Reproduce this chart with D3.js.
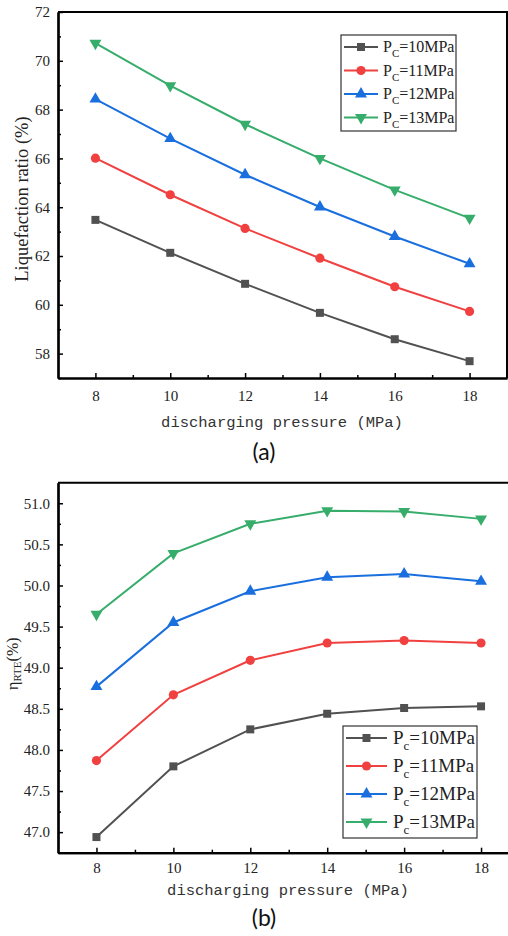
<!DOCTYPE html>
<html>
<head>
<meta charset="utf-8">
<script src="https://cdn.jsdelivr.net/npm/d3@7"></script>
<style>
  body { margin: 0; background: #fff; }
  svg { display: block; }
</style>
</head>
<body>
<svg id="chart" width="508" height="936"></svg>
<script>
// discharging pressure (MPa)
const pressures = [8, 10, 12, 14, 16, 18];
const chargePressures = ["10", "11", "12", "13"];

// (a) liquefaction ratio (%)
const liquefaction10 = [63.48, 62.13, 60.86, 59.67, 58.59, 57.69];
const liquefaction11 = [66.01, 64.51, 63.13, 61.91, 60.74, 59.73];
const liquefaction12 = [68.43, 66.81, 65.33, 64.01, 62.80, 61.68];
const liquefaction13 = [70.72, 68.98, 67.40, 66.00, 64.71, 63.55];

// (b) round trip efficiency (%)
const rte10 = [46.94, 47.80, 48.25, 48.44, 48.51, 48.53];
const rte11 = [47.87, 48.67, 49.09, 49.30, 49.33, 49.30];
const rte12 = [48.77, 49.55, 49.93, 50.10, 50.14, 50.05];
const rte13 = [49.65, 50.39, 50.75, 50.91, 50.90, 50.81];

const xTicks = [8, 10, 12, 14, 16, 18];
const yTicksA = [58, 60, 62, 64, 66, 68, 70, 72];
const yTicksB = [47.0, 47.5, 48.0, 48.5, 49.0, 49.5, 50.0, 50.5, 51.0];

const colors = ["#515151", "#F14040", "#1A6FDF", "#37AD6B"];
const symbols = [
  {type: d3.symbolSquare, size: 64, rotate: 0},
  {type: d3.symbolCircle, size: 66, rotate: 0},
  {type: d3.symbolTriangle, size: 62, rotate: 0},
  {type: d3.symbolTriangle, size: 62, rotate: 180}
];

const serif = "'Liberation Serif', 'Times New Roman', serif";
const mono = "'Liberation Mono', 'DejaVu Sans Mono', monospace";

const svg = d3.select("#chart");

function drawPanel(cfg) {
  const g = svg.append("g");

  const x = d3.scaleLinear().domain([7, 19]).range([cfg.left, cfg.right]);
  const y = d3.scaleLinear().domain(cfg.yDomain).range([cfg.bottom, cfg.top]);

  // frame top/right
  g.append("path")
      .attr("d", `M${cfg.left},${cfg.top}H${cfg.right}V${cfg.bottom}`)
      .attr("fill", "none")
      .attr("stroke", "#000")
      .attr("stroke-width", 2);

  // x axis, ticks pointing inside
  const xAxis = g.append("g").attr("transform", `translate(0,${cfg.bottom})`);
  xAxis.call(d3.axisBottom(x).tickValues(xTicks).tickSizeInner(-5).tickSizeOuter(0).tickPadding(cfg.xPad));
  const xMinor = g.append("g").attr("transform", `translate(0,${cfg.bottom})`);
  xMinor.call(d3.axisBottom(x).tickValues(d3.range(9, 19, 2)).tickSizeInner(-3).tickSizeOuter(0).tickFormat(""));

  // y axis, ticks pointing inside
  const yAxis = g.append("g").attr("transform", `translate(${cfg.left},0)`);
  yAxis.call(d3.axisLeft(y).tickValues(cfg.yTicks).tickSizeInner(-5).tickSizeOuter(0)
      .tickPadding(cfg.yPad).tickFormat(cfg.yFormat));
  const yMinor = g.append("g").attr("transform", `translate(${cfg.left},0)`);
  yMinor.call(d3.axisLeft(y).tickValues(cfg.yMinor).tickSizeInner(-3).tickSizeOuter(0).tickFormat(""));

  [xAxis, xMinor, yAxis, yMinor].forEach(a => {
    a.select(".domain").attr("stroke-width", 2.2);
    a.selectAll(".tick line").attr("stroke-width", 1.5);
  });
  [xAxis, yAxis].forEach(a => {
    a.selectAll("text")
        .style("font-family", serif)
        .style("font-size", "15px")
        .attr("fill", "#222");
  });

  // series lines + markers
  cfg.series.forEach((vals, i) => {
    const pts = pressures.map((p, j) => [p, vals[j]]);
    g.append("path")
        .datum(pts)
        .attr("fill", "none")
        .attr("stroke", colors[i])
        .attr("stroke-width", 2)
        .attr("d", d3.line().x(d => x(d[0])).y(d => y(d[1])));
    g.selectAll(".m" + i)
      .data(pts)
      .join("path")
        .attr("class", "m" + i)
        .attr("transform", d => `translate(${x(d[0])},${y(d[1])}) rotate(${symbols[i].rotate})`)
        .attr("d", d3.symbol().type(symbols[i].type).size(symbols[i].size))
        .attr("fill", colors[i]);
  });

  // legend
  const lg = cfg.legend;
  g.append("rect")
      .attr("x", lg.x).attr("y", lg.y)
      .attr("width", lg.w).attr("height", lg.h)
      .attr("fill", "#fff")
      .attr("stroke", "#333")
      .attr("stroke-width", 1.2);
  chargePressures.forEach((c, i) => {
    const ry = lg.y + lg.rowTop + i * lg.rowGap;
    g.append("line")
        .attr("x1", lg.x + 3).attr("x2", lg.x + 3 + lg.lineLen)
        .attr("y1", ry).attr("y2", ry)
        .attr("stroke", colors[i])
        .attr("stroke-width", 2);
    g.append("path")
        .attr("transform", `translate(${lg.x + 3 + lg.lineLen / 2},${ry}) rotate(${symbols[i].rotate})`)
        .attr("d", d3.symbol().type(symbols[i].type).size(symbols[i].size))
        .attr("fill", colors[i]);
    const t = g.append("text")
        .attr("x", lg.x + lg.textX)
        .attr("y", ry + lg.fontSize * 0.33)
        .style("font-family", serif)
        .style("font-size", lg.fontSize + "px")
        .attr("fill", "#222");
    t.append("tspan").text("P");
    t.append("tspan")
        .attr("dy", lg.fontSize * 0.3)
        .style("font-size", (lg.fontSize * 0.68) + "px")
        .text(lg.sub);
    t.append("tspan")
        .attr("dy", -lg.fontSize * 0.3)
        .text(`=${c}MPa`);
  });

  // axis titles
  const yt = g.append("text")
      .attr("transform", `translate(${cfg.yTitleX},${(cfg.top + cfg.bottom) / 2 + cfg.yTitleShift}) rotate(-90)`)
      .attr("text-anchor", "middle")
      .style("font-family", serif)
      .style("font-size", cfg.yTitleSize + "px")
      .attr("fill", "#222");
  cfg.yTitle(yt);

  g.append("text")
      .attr("x", cfg.xTitleX)
      .attr("y", cfg.xTitleY)
      .attr("text-anchor", "middle")
      .style("font-family", mono)
      .style("font-size", "15.5px")
      .attr("fill", "#333")
      .text("discharging pressure (MPa)");

  g.append("text")
      .attr("x", 264)
      .attr("y", cfg.labelY)
      .attr("text-anchor", "middle")
      .style("font-family", "Lato, 'Open Sans', sans-serif")
      .style("font-size", "23px")
      .attr("fill", "#111")
      .text(cfg.label);
}

drawPanel({
  left: 58, right: 507, top: 12, bottom: 378,
  yDomain: [57, 72],
  yTicks: yTicksA,
  yMinor: d3.range(57, 72, 2),
  yFormat: d3.format("d"),
  xPad: 12, yPad: 8,
  series: [liquefaction10, liquefaction11, liquefaction12, liquefaction13],
  legend: {x: 341, y: 35, w: 115, h: 96, rowTop: 12, rowGap: 23.5, lineLen: 34, textX: 42, fontSize: 16, sub: "C"},
  yTitleX: 28, yTitleShift: 4, yTitleSize: 18.5,
  yTitle: t => t.text("Liquefaction ratio (%)"),
  xTitleX: 282, xTitleY: 427,
  label: "(a)", labelY: 460
});

drawPanel({
  left: 58, right: 519.5, top: 482.7, bottom: 852.7,
  yDomain: [46.75, 51.25],
  yTicks: yTicksB,
  yMinor: d3.range(46.75, 51.25, 0.5),
  yFormat: d3.format(".1f"),
  xPad: 10, yPad: 8,
  series: [rte10, rte11, rte12, rte13],
  legend: {x: 343, y: 726, w: 134, h: 112, rowTop: 12, rowGap: 28, lineLen: 41, textX: 50, fontSize: 19, sub: "c"},
  yTitleX: 18, yTitleShift: -4, yTitleSize: 16,
  yTitle: t => {
    t.append("tspan").text("η");
    t.append("tspan").attr("dy", 3).style("font-size", "11px").text("RTE");
    t.append("tspan").attr("dy", -3).text("(%)");
  },
  xTitleX: 288, xTitleY: 895,
  label: "(b)", labelY: 926
});
</script>
</body>
</html>
